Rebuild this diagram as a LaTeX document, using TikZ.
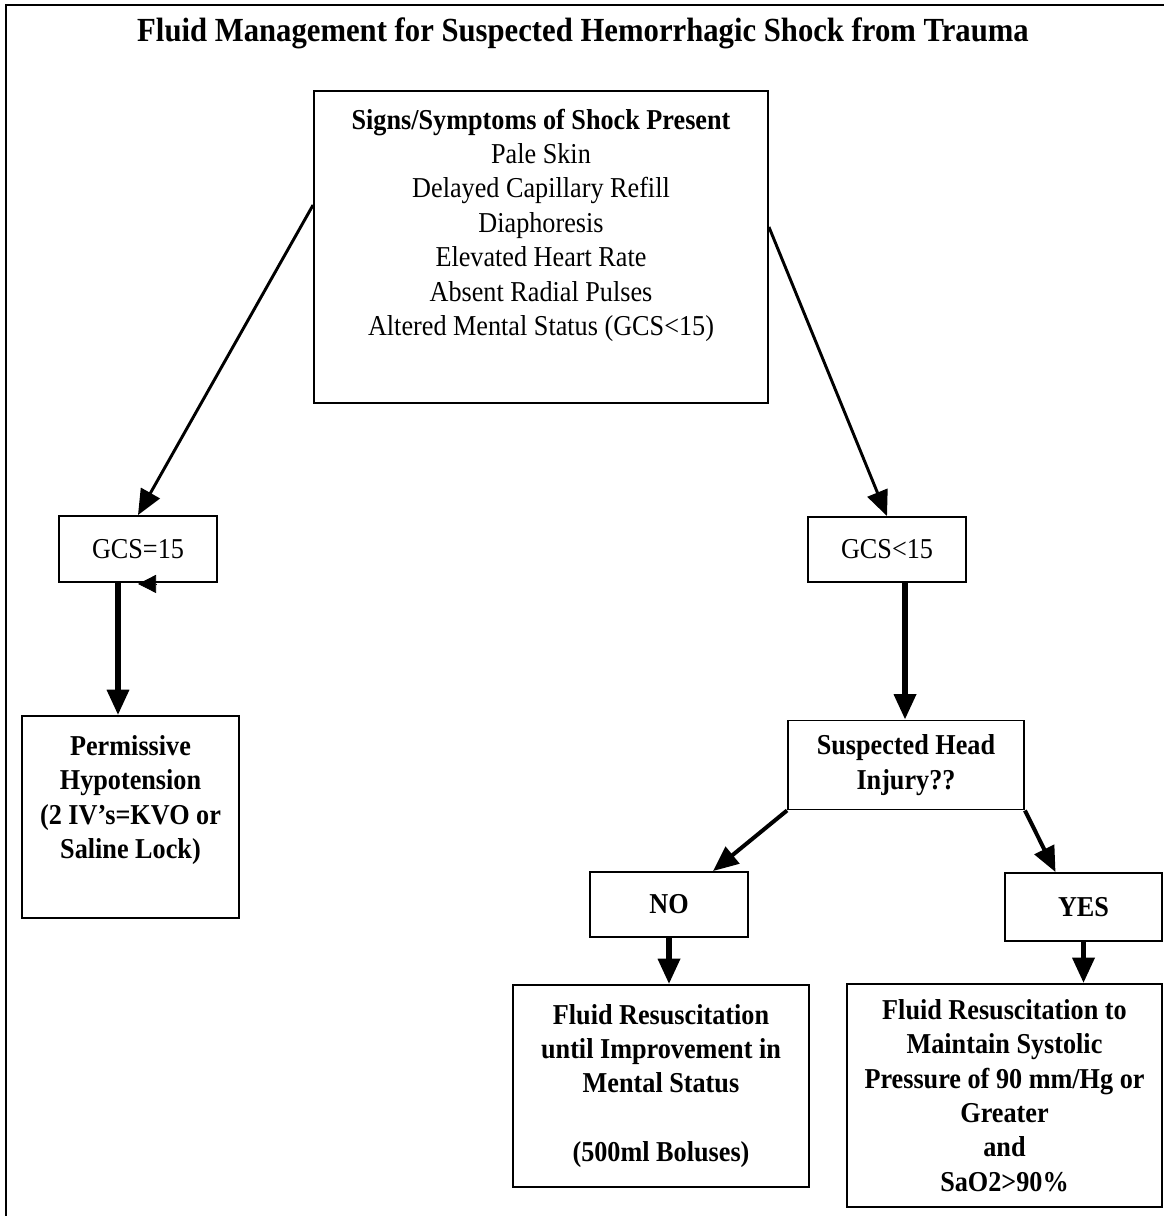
\documentclass[tikz,border=0pt]{standalone}
\usepackage{fontspec}
\setmainfont{Liberation Serif}[FakeStretch=0.91]
\usetikzlibrary{arrows.meta}
\tikzstyle{caja}=[draw, line width=1.4pt, align=center, inner sep=0pt,
  font=\fontsize{21.6}{25.8}\selectfont]
\tikzstyle{cajab}=[caja, font=\fontsize{21.6}{25.8}\selectfont\bfseries]
\tikzstyle{linea}=[draw, line width=2.2pt, -{Triangle[length=19pt,width=16pt]}]
\tikzstyle{lineag}=[linea, line width=4pt]
\tikzstyle{lineam}=[linea, line width=3pt]

\begin{document}
\begin{tikzpicture}[x=0.75pt,y=-0.75pt]
  \useasboundingbox (0,0) rectangle (1164,1216);

  % Frame and title
  \draw[line width=1.5pt] (6,1216) -- (6,5) -- (1164,5);
  \node (titulo) [anchor=base, font=\fontsize{25.3}{30}\selectfont\bfseries] at (583,42)
    {Fluid Management for Suspected Hemorrhagic Shock from Trauma};

  % Draw diagram elements
  \path (541,247) node (signos) [caja, minimum width=340.5pt, minimum height=234pt]
    {\textbf{Signs/Symptoms of Shock Present}\\Pale Skin\\Delayed Capillary Refill\\
     Diaphoresis\\Elevated Heart Rate\\Absent Radial Pulses\\
     Altered Mental Status (GCS<15)\\[11.5pt]};
  \path (138,549) node (gcsa) [caja, minimum width=118.5pt, minimum height=49.5pt] {GCS=15};
  \path (887,549.5) node (gcsb) [caja, minimum width=118.5pt, minimum height=48.75pt] {GCS<15};
  \path (130.5,817) node (permisiva) [cajab, minimum width=162.75pt, minimum height=151.5pt]
    {Permissive\\Hypotension\\(2 IV’s=KVO or\\Saline Lock)\\[4.5pt]};
  \path (906,765) node (cabeza) [cajab, minimum width=177pt, minimum height=66.75pt]
    {Suspected Head\\Injury??};
  \path (669,904.5) node (no) [cajab, minimum width=118.5pt, minimum height=48.75pt] {NO};
  \path (1083.5,907) node (si) [cajab, minimum width=117.75pt, minimum height=51pt] {YES};
  \path (661,1086) node (fluidono) [cajab, minimum width=222pt, minimum height=151.5pt]
    {Fluid Resuscitation\\until Improvement in\\Mental Status\\[25.8pt](500ml Boluses)};
  \path (1004.5,1095.5) node (fluidosi) [cajab, minimum width=236.25pt, minimum height=167.25pt]
    {Fluid Resuscitation to\\Maintain Systolic\\Pressure of 90 mm/Hg or\\Greater\\and\\SaO2>90\%};

  % Connectors
  \path [linea] ([yshift=31.5pt]signos.west) -- (gcsa.north);
  \path [linea] ([yshift=15pt]signos.east) -- (gcsb.north);
  \path [lineag] ([xshift=-15pt]gcsa.south) -- ([xshift=-15pt]gcsa.south |- permisiva.north);
  \path [lineag] ([xshift=13.5pt]gcsb.south) -- ([xshift=13.5pt]gcsb.south |- cabeza.north);
  \path [lineam] (cabeza.south west) -- ([xshift=33pt]no.north);
  \path [lineam] (cabeza.south east) -- ([xshift=-21pt]si.north);
  \path [lineag] (no.south) -- (no.south |- fluidono.north);
  \path [lineag] (si.south) -- (si.south |- fluidosi.north);
  \draw [line width=0.5pt, -{Triangle[length=13.5pt,width=13.5pt]}]
    ([xshift=13.5pt,yshift=-0.75pt]gcsa.south) -- ([yshift=-0.75pt]gcsa.south);
\end{tikzpicture}
\end{document}
